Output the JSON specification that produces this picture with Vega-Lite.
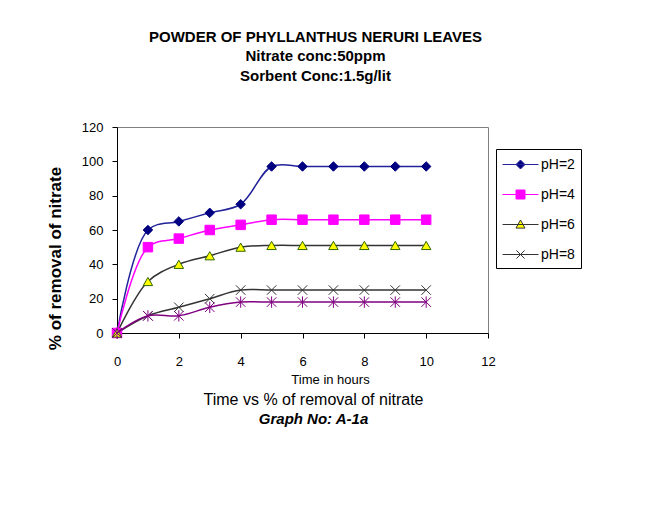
{
  "$schema": "https://vega.github.io/schema/vega-lite/v6.json",
  "width": 371,
  "height": 206,
  "autosize": {"type": "none"},
  "padding": {"left": 117, "top": 127, "right": 174, "bottom": 177},
  "background": "white",
  "config": {
    "font": "Liberation Sans",
    "view": {"stroke": "#808080", "strokeWidth": 1},
    "axis": {"grid": false, "domainColor": "black", "tickColor": "black", "labelColor": "black", "titleColor": "black", "labelFontSize": 13, "labelFontWeight": "normal"}
  },
  "title": {
    "text": "Time vs % of removal of nitrate",
    "subtitle": "Graph No: A-1a",
    "orient": "bottom",
    "anchor": "middle",
    "dx": 11,
    "offset": 6,
    "fontSize": 16,
    "fontWeight": "normal",
    "color": "black",
    "subtitleFontSize": 15,
    "subtitleFontWeight": "bold",
    "subtitleFontStyle": "italic",
    "subtitleColor": "black",
    "subtitlePadding": 4
  },
  "data": {
    "values": [
      {"s": "pH=2", "t": 0, "v": 0}, {"s": "pH=2", "t": 1, "v": 60}, {"s": "pH=2", "t": 2, "v": 65}, {"s": "pH=2", "t": 3, "v": 70}, {"s": "pH=2", "t": 4, "v": 75}, {"s": "pH=2", "t": 5, "v": 97}, {"s": "pH=2", "t": 6, "v": 97}, {"s": "pH=2", "t": 7, "v": 97}, {"s": "pH=2", "t": 8, "v": 97}, {"s": "pH=2", "t": 9, "v": 97}, {"s": "pH=2", "t": 10, "v": 97},
      {"s": "pH=4", "t": 0, "v": 0}, {"s": "pH=4", "t": 1, "v": 50}, {"s": "pH=4", "t": 2, "v": 55}, {"s": "pH=4", "t": 3, "v": 60}, {"s": "pH=4", "t": 4, "v": 63}, {"s": "pH=4", "t": 5, "v": 66}, {"s": "pH=4", "t": 6, "v": 66}, {"s": "pH=4", "t": 7, "v": 66}, {"s": "pH=4", "t": 8, "v": 66}, {"s": "pH=4", "t": 9, "v": 66}, {"s": "pH=4", "t": 10, "v": 66},
      {"s": "pH=6", "t": 0, "v": 0}, {"s": "pH=6", "t": 1, "v": 30}, {"s": "pH=6", "t": 2, "v": 40}, {"s": "pH=6", "t": 3, "v": 45}, {"s": "pH=6", "t": 4, "v": 50}, {"s": "pH=6", "t": 5, "v": 51}, {"s": "pH=6", "t": 6, "v": 51}, {"s": "pH=6", "t": 7, "v": 51}, {"s": "pH=6", "t": 8, "v": 51}, {"s": "pH=6", "t": 9, "v": 51}, {"s": "pH=6", "t": 10, "v": 51},
      {"s": "pH=8", "t": 0, "v": 0}, {"s": "pH=8", "t": 1, "v": 10}, {"s": "pH=8", "t": 2, "v": 15}, {"s": "pH=8", "t": 3, "v": 20}, {"s": "pH=8", "t": 4, "v": 25}, {"s": "pH=8", "t": 5, "v": 25}, {"s": "pH=8", "t": 6, "v": 25}, {"s": "pH=8", "t": 7, "v": 25}, {"s": "pH=8", "t": 8, "v": 25}, {"s": "pH=8", "t": 9, "v": 25}, {"s": "pH=8", "t": 10, "v": 25},
      {"s": "p5", "t": 0, "v": 0}, {"s": "p5", "t": 1, "v": 10}, {"s": "p5", "t": 2, "v": 10}, {"s": "p5", "t": 3, "v": 15}, {"s": "p5", "t": 4, "v": 18}, {"s": "p5", "t": 5, "v": 18}, {"s": "p5", "t": 6, "v": 18}, {"s": "p5", "t": 7, "v": 18}, {"s": "p5", "t": 8, "v": 18}, {"s": "p5", "t": 9, "v": 18}, {"s": "p5", "t": 10, "v": 18}
    ]
  },
  "resolve": {"axis": {"x": "independent"}},
  "encoding": {
    "y": {
      "field": "v",
      "type": "quantitative",
      "scale": {"domain": [0, 120], "nice": false},
      "axis": {
        "values": [0, 20, 40, 60, 80, 100, 120],
        "tickSize": 5,
        "labelPadding": 9,
        "labelFlush": false,
        "labelOverlap": false,
        "title": "% of removal of nitrate",
        "titleFontSize": 17,
        "titleFontWeight": "bold",
        "titleAngle": -90,
        "titleAlign": "center",
        "titleBaseline": "middle",
        "titleX": -62,
        "titleY": 131
      }
    }
  },
  "layer": [
    {
      "transform": [{"filter": "datum.s != 'p5'"}],
      "encoding": {
        "x": {
          "field": "t",
          "type": "quantitative",
          "scale": {"domain": [0, 12], "nice": false},
          "axis": {
            "orient": "bottom",
            "values": [0, 2, 4, 6, 8, 10, 12],
            "tickSize": 5,
            "labelPadding": 17,
            "labelFlush": false,
            "labelOverlap": false,
            "title": "Time in hours",
            "titleFontSize": 13,
            "titleFontWeight": "normal",
            "titlePadding": 5,
            "titleX": 213,
            "titleAlign": "center"
          }
        }
      },
      "layer": [
        {
          "mark": {"type": "line", "interpolate": "catmull-rom", "strokeWidth": 1.5},
          "encoding": {
            "color": {
              "field": "s",
              "type": "nominal",
              "scale": {"domain": ["pH=2", "pH=4", "pH=6", "pH=8"], "range": ["#22229a", "#FF00FF", "#333333", "#333333"]},
              "legend": {
                "orient": "none",
                "legendX": 379,
                "legendY": 22,
                "title": null,
                "strokeColor": "black",
                "fillColor": "white",
                "padding": 6,
                "labelFontSize": 14,
                "labelColor": "black",
                "symbolSize": 324,
                "symbolStrokeWidth": 1,
                "rowPadding": 13,
                "labelOffset": 20,
                "encode": {
                  "symbols": {
                    "update": {
                      "shape": {"signal": "datum.value === 'pH=2' ? 'M-1,0H3M1,-0.5L1.5,0L1,0.5L0.5,0Z' : datum.value === 'pH=4' ? 'M-1,0H3M0.5,-0.5H1.5V0.5H0.5Z' : datum.value === 'pH=6' ? 'M-1,0H3M1,-0.5L1.5,0.4L0.5,0.4Z' : 'M-1,0H3M0.55,-0.45L1.45,0.45M0.55,0.45L1.45,-0.45'"},
                      "fill": {"signal": "datum.value === 'pH=2' ? '#000080' : datum.value === 'pH=4' ? '#FF00FF' : datum.value === 'pH=6' ? '#FFFF00' : 'transparent'"},
                      "strokeWidth": {"value": 1},
                      "opacity": {"value": 1}
                    }
                  }
                }
              }
            }
          }
        },
        {
          "mark": {"type": "point", "filled": true, "size": 90, "strokeWidth": 1, "opacity": 1},
          "encoding": {
            "shape": {"field": "s", "type": "nominal", "scale": {"domain": ["pH=2", "pH=4", "pH=6", "pH=8", "p5"], "range": ["diamond", "square", "triangle-up", "M-1,-1L1,1M-1,1L1,-1", "cross"]}, "legend": null},
            "fill": {"field": "s", "type": "nominal", "scale": {"domain": ["pH=2", "pH=4", "pH=6", "pH=8", "p5"], "range": ["#000080", "#FF00FF", "#FFFF00", "transparent", "transparent"]}, "legend": null},
            "stroke": {"field": "s", "type": "nominal", "scale": {"domain": ["pH=2", "pH=4", "pH=6", "pH=8", "p5"], "range": ["#000080", "#FF00FF", "#336600", "#333333", "#800080"]}, "legend": null}
          }
        }
      ]
    },
    {
      "transform": [{"filter": "datum.s == 'p5'"}],
      "encoding": {
        "x": {
          "field": "t",
          "type": "quantitative",
          "scale": {"domain": [0, 12], "nice": false},
          "axis": {
            "orient": "top",
            "labels": false,
            "ticks": false,
            "domain": false,
            "title": ["POWDER OF PHYLLANTHUS NERURI LEAVES", "Nitrate conc:50ppm", "Sorbent Conc:1.5g/lit"],
            "titleFontSize": 15,
            "titleFontWeight": "bold",
            "titleLineHeight": 19.5,
            "titleX": 198,
            "titleY": -98,
            "titleAlign": "center",
            "titleBaseline": "top",
            "titleAngle": 0
          }
        }
      },
      "layer": [
        {"mark": {"type": "line", "interpolate": "catmull-rom", "strokeWidth": 1.5, "color": "#800080"}, "encoding": {}},
        {"mark": {"type": "point", "shape": "M-1,-1L1,1M-1,1L1,-1M0,-1.2L0,1.2", "size": 90, "filled": false, "strokeWidth": 1, "color": "#800080", "opacity": 1}, "encoding": {}}
      ]
    }
  ]
}
